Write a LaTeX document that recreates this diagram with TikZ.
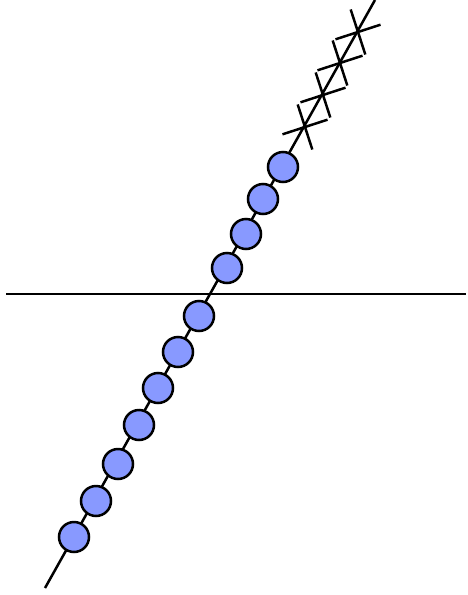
\documentclass[tikz,border=0pt]{standalone}
\usetikzlibrary{shapes.misc}
\definecolor{ballblue}{RGB}{136,153,255}
\tikzset{
  ball/.style={circle, draw=black, fill=ballblue, line width=2.5pt, minimum size=30pt, inner sep=0pt},
  xmark/.style={cross out, draw=black, line width=2.5pt, minimum size=31pt, inner sep=0pt, rotate=-27},
  axis/.style={line width=2.5pt}
}
\begin{document}
\begin{tikzpicture}[x=1pt,y=-1pt]
\useasboundingbox (0,0) rectangle (467,595);
\coordinate (hl) at (6,294);
\coordinate (hr) at (466,294);
\coordinate (lb) at (45,588);
\coordinate (lt) at (375,0);
\draw[axis] (hl) -- (hr);
\draw[axis] (lb) -- (lt);
\foreach \n/\x/\y in {b1/283/167,b2/263/199,b3/246/234,b4/227/268,b5/199/316,b6/178/352,b7/158/388,b8/139/425,b9/118/464,b10/96/501,b11/74/537}
  \node[ball] (\n) at (\x,\y) {};
\foreach \n/\x/\y in {x1/305/127,x2/323/95,x3/340/63,x4/358/32}
  \node[xmark] (\n) at (\x,\y) {};
\end{tikzpicture}
\end{document}
